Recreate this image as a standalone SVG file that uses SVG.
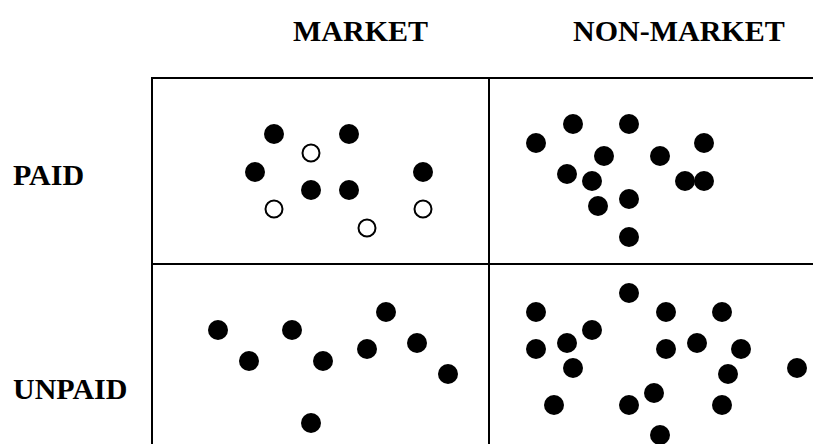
<svg xmlns="http://www.w3.org/2000/svg" width="813" height="444" viewBox="0 0 813 444">
<style>
.lbl{font-family:"Liberation Serif","Times New Roman",serif;font-weight:bold;font-size:30px;fill:#000}
.grid{stroke:#000;stroke-width:2;fill:none}
.f{fill:#000}
.o{fill:#fff;stroke:#000;stroke-width:2}
</style>
<rect width="813" height="444" fill="#fff"/>
<g id="headers">
<text class="lbl" x="293" y="41">MARKET</text>
<text class="lbl" x="573" y="41">NON-MARKET</text>
<text class="lbl" x="13" y="185">PAID</text>
<text class="lbl" x="13" y="399">UNPAID</text>
</g>
<g id="grid">
<line class="grid" x1="152" y1="78" x2="813" y2="78"/>
<line class="grid" x1="152" y1="264" x2="813" y2="264"/>
<line class="grid" x1="152" y1="77" x2="152" y2="444"/>
<line class="grid" x1="489" y1="77" x2="489" y2="444"/>
</g>
<g id="paid-market">
<circle class="f" cx="274" cy="134" r="10"/>
<circle class="f" cx="349" cy="134" r="10"/>
<circle class="o" cx="311" cy="153" r="8.5"/>
<circle class="f" cx="255" cy="172" r="10"/>
<circle class="f" cx="423" cy="172" r="10"/>
<circle class="f" cx="311" cy="190" r="10"/>
<circle class="f" cx="349" cy="190" r="10"/>
<circle class="o" cx="274" cy="209" r="8.5"/>
<circle class="o" cx="423" cy="209" r="8.5"/>
<circle class="o" cx="367" cy="228" r="8.5"/>
</g>
<g id="paid-nonmarket">
<circle class="f" cx="536" cy="143" r="10"/>
<circle class="f" cx="573" cy="124" r="10"/>
<circle class="f" cx="629" cy="124" r="10"/>
<circle class="f" cx="604" cy="156" r="10"/>
<circle class="f" cx="660" cy="156" r="10"/>
<circle class="f" cx="704" cy="143" r="10"/>
<circle class="f" cx="567" cy="174" r="10"/>
<circle class="f" cx="592" cy="181" r="10"/>
<circle class="f" cx="685" cy="181" r="10"/>
<circle class="f" cx="704" cy="181" r="10"/>
<circle class="f" cx="629" cy="199" r="10"/>
<circle class="f" cx="598" cy="206" r="10"/>
<circle class="f" cx="629" cy="237" r="10"/>
</g>
<g id="unpaid-market">
<circle class="f" cx="218" cy="330" r="10"/>
<circle class="f" cx="292" cy="330" r="10"/>
<circle class="f" cx="386" cy="312" r="10"/>
<circle class="f" cx="249" cy="361" r="10"/>
<circle class="f" cx="323" cy="361" r="10"/>
<circle class="f" cx="367" cy="349" r="10"/>
<circle class="f" cx="417" cy="343" r="10"/>
<circle class="f" cx="448" cy="374" r="10"/>
<circle class="f" cx="311" cy="423" r="10"/>
</g>
<g id="unpaid-nonmarket">
<circle class="f" cx="629" cy="293" r="10"/>
<circle class="f" cx="536" cy="312" r="10"/>
<circle class="f" cx="666" cy="312" r="10"/>
<circle class="f" cx="722" cy="312" r="10"/>
<circle class="f" cx="592" cy="330" r="10"/>
<circle class="f" cx="567" cy="343" r="10"/>
<circle class="f" cx="697" cy="343" r="10"/>
<circle class="f" cx="536" cy="349" r="10"/>
<circle class="f" cx="666" cy="349" r="10"/>
<circle class="f" cx="741" cy="349" r="10"/>
<circle class="f" cx="573" cy="368" r="10"/>
<circle class="f" cx="797" cy="368" r="10"/>
<circle class="f" cx="728" cy="374" r="10"/>
<circle class="f" cx="654" cy="393" r="10"/>
<circle class="f" cx="554" cy="405" r="10"/>
<circle class="f" cx="629" cy="405" r="10"/>
<circle class="f" cx="722" cy="405" r="10"/>
<circle class="f" cx="660" cy="435" r="10"/>
</g>
</svg>
